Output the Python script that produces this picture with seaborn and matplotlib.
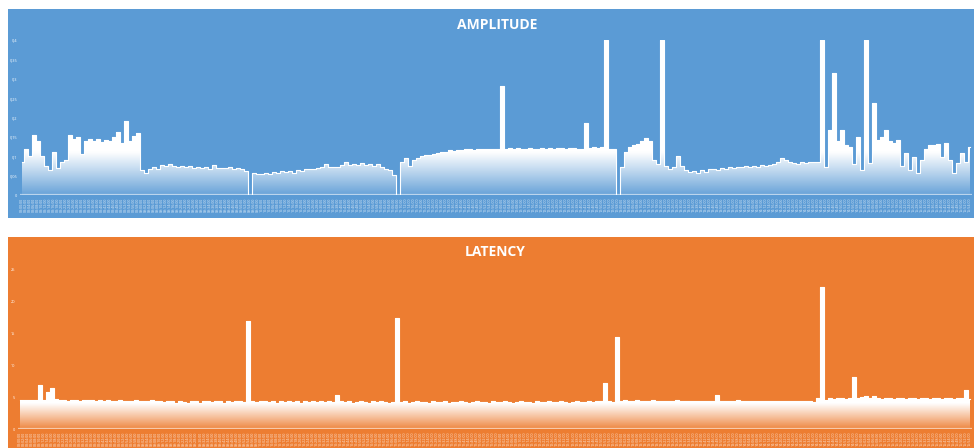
import numpy as np
import pandas as pd
import matplotlib
matplotlib.use('Agg')
import matplotlib.pyplot as plt
from matplotlib.colors import LinearSegmentedColormap
from matplotlib.patches import Rectangle
import seaborn as sns

# values (one value every ~4 px)
amplitude = [
    0.085, 0.12, 0.10, 0.155, 0.14, 0.10, 0.075, 0.065, 0.11, 0.07,
    0.085, 0.09, 0.155, 0.145, 0.15, 0.105, 0.14, 0.145, 0.14, 0.145,
    0.138, 0.142, 0.14, 0.15, 0.162, 0.135, 0.19, 0.14, 0.152, 0.16,
    0.065, 0.057, 0.068, 0.072, 0.066, 0.078, 0.074, 0.08, 0.075, 0.073,
    0.076, 0.072, 0.074, 0.07, 0.072, 0.069, 0.071, 0.068, 0.078, 0.07,
    0.069, 0.07, 0.072, 0.068, 0.07, 0.066, 0.062, 0.0, 0.056, 0.055,
    0.053, 0.057, 0.054, 0.06, 0.058, 0.062, 0.06, 0.063, 0.058, 0.064,
    0.062, 0.066, 0.068, 0.066, 0.07, 0.072, 0.08, 0.071, 0.073, 0.072,
    0.077, 0.085, 0.078, 0.08, 0.077, 0.082, 0.078, 0.08, 0.076, 0.08,
    0.072, 0.068, 0.065, 0.052, 0.0, 0.085, 0.095, 0.075, 0.09, 0.095,
    0.1, 0.103, 0.104, 0.107, 0.108, 0.11, 0.112, 0.115, 0.114, 0.117,
    0.116, 0.118, 0.12, 0.117, 0.119, 0.118, 0.12, 0.118, 0.12, 0.119,
    0.28, 0.12, 0.122, 0.119, 0.121, 0.12, 0.118, 0.121, 0.12, 0.119,
    0.122, 0.12, 0.121, 0.12, 0.122, 0.121, 0.12, 0.122, 0.121, 0.12,
    0.118, 0.185, 0.122, 0.123, 0.121, 0.124, 0.40, 0.12, 0.118, 0.0,
    0.072, 0.11, 0.125, 0.128, 0.132, 0.14, 0.148, 0.14, 0.09, 0.08,
    0.40, 0.075, 0.068, 0.072, 0.1, 0.075, 0.065, 0.06, 0.062, 0.058,
    0.064, 0.06, 0.066, 0.068, 0.065, 0.07, 0.068, 0.072, 0.07, 0.073,
    0.071, 0.074, 0.072, 0.075, 0.073, 0.077, 0.075, 0.078, 0.08, 0.085,
    0.095, 0.09, 0.085, 0.082, 0.08, 0.085, 0.083, 0.086, 0.084, 0.085,
    0.40, 0.072, 0.168, 0.315, 0.14, 0.168, 0.13, 0.125, 0.08, 0.15,
    0.065, 0.40, 0.082, 0.237, 0.142, 0.15, 0.168, 0.14, 0.134, 0.142,
    0.075, 0.108, 0.065, 0.098, 0.057, 0.09, 0.12, 0.128, 0.13, 0.132,
    0.098, 0.134, 0.09, 0.057, 0.082, 0.108, 0.085, 0.124,
]

latency = [
    4.6, 4.5, 4.6, 4.5, 4.6, 6.9, 4.5, 5.8, 6.4, 4.7,
    4.6, 4.5, 4.4, 4.6, 4.5, 4.4, 4.5, 4.6, 4.5, 4.4, 4.5,
    4.4, 4.5, 4.3, 4.4, 4.5, 4.4, 4.3, 4.4, 4.5, 4.4, 4.3, 4.4, 4.5, 4.4, 4.3,
    4.2, 4.4, 4.3, 4.1, 4.4, 4.2, 4.0, 4.4, 4.3, 4.1, 4.4, 4.3, 4.2, 4.4, 4.3,
    4.0, 4.3, 4.2, 4.4, 4.3, 4.2,
    16.9,
    4.3, 4.2, 4.4, 4.3, 4.2, 4.3, 4.1, 4.3, 4.2, 4.3, 4.2, 4.3, 4.1, 4.3, 4.2,
    4.3, 4.2, 4.3, 4.2, 4.3, 4.2,
    5.3,
    4.3, 4.2, 4.3, 4.1, 4.2, 4.3, 4.2, 4.1, 4.3, 4.2, 4.3, 4.2, 4.1, 4.2,
    17.3,
    4.2, 4.3, 4.1, 4.2, 4.3, 4.2, 4.2, 4.1, 4.3, 4.2,
    4.2, 4.3, 4.1, 4.2, 4.2, 4.3, 4.2, 4.1, 4.2, 4.3,
    4.2, 4.2, 4.1, 4.3, 4.2, 4.2, 4.3, 4.2, 4.1, 4.2,
    4.3, 4.2, 4.2, 4.1, 4.3, 4.2, 4.2, 4.3, 4.2, 4.2,
    4.3, 4.2, 4.1, 4.2, 4.3, 4.2, 4.2, 4.3, 4.2, 4.3, 4.4,
    7.2, 4.3, 4.2, 14.4,
    4.4, 4.5, 4.3, 4.4, 4.5, 4.4, 4.3, 4.4, 4.5, 4.4, 4.4, 4.3,
    4.4, 4.4, 4.5, 4.3, 4.4, 4.4, 4.3, 4.4, 4.4, 4.3, 4.4, 4.4,
    5.3,
    4.3, 4.4, 4.3, 4.4, 4.6, 4.3, 4.4, 4.3, 4.3, 4.4, 4.3, 4.4, 4.3,
    4.3, 4.4, 4.3, 4.4, 4.3, 4.4, 4.3, 4.4, 4.3, 4.3, 4.2, 4.8,
    22.2,
    4.6, 4.8, 4.7, 4.9, 4.8, 4.7, 4.8,
    8.1,
    4.8, 5.0, 5.2, 4.9, 5.1, 4.8, 4.7, 4.8, 4.8, 4.7, 4.8, 4.8, 4.7, 4.8, 4.8,
    4.7, 4.8, 4.8, 4.7, 4.8, 4.8, 4.7, 4.8, 4.8, 4.7, 4.8, 4.8, 6.1, 4.7,
]

amp_ticks = [0, 0.05, 0.1, 0.15, 0.2, 0.25, 0.3, 0.35, 0.4]
amp_tick_labels = ["0", "0,05", "0,1", "0,15", "0,2", "0,25", "0,3", "0,35", "0,4"]
lat_ticks = [0, 5, 10, 15, 20, 25]
lat_tick_labels = ["0", "5", "10", "15", "20", "25"]
time_labels = list(pd.date_range("2019-03-12 08:00:00", periods=len(amplitude), freq="2min").strftime("%H:%M:%S"))

BLUE = "#5B9BD5"
ORANGE = "#ED7D31"
W, H = 974, 448

plt.rcParams['font.family'] = ['Open Sans', 'DejaVu Sans']

fig = plt.figure(figsize=(W / 100, H / 100), dpi=100)
fig.patch.set_facecolor("white")


def fx(px):
    return px / W


def fy(py):
    return 1 - py / H


def panel(values, color, title, title_xy, box, ax_box, ticks, tick_labels, ymax, fade_top):
    # coloured card behind the chart
    l, t, r, b = box
    fig.add_artist(Rectangle((fx(l), fy(b)), fx(r) - fx(l), fy(t) - fy(b),
                             transform=fig.transFigure, facecolor=color, edgecolor="none", zorder=0))
    fig.text(fx(title_xy[0]), fy(title_xy[1]), title, ha="center", va="center",
             color="white", fontsize=10, fontweight="bold")

    l, t, r, b = ax_box
    ax = fig.add_axes([fx(l), fy(b), fx(r) - fx(l), fy(t) - fy(b)])
    ax.set_facecolor("none")

    n = len(values)
    df = pd.DataFrame({"idx": np.arange(n), "value": values})

    # gradient area: white near the top of the band, fading into the card colour
    poly = ax.fill_between(df["idx"], df["value"], step="mid", facecolor="none", linewidth=0)
    grad = np.clip(np.linspace(0, ymax, 600) / fade_top, 0, 1).reshape(-1, 1)
    cmap = LinearSegmentedColormap.from_list("fade", [(1, 1, 1, 0.08), (1, 1, 1, 0.55), (1, 1, 1, 1)])
    im = ax.imshow(grad, cmap=cmap, vmin=0, vmax=1, aspect="auto", origin="lower",
                   extent=[-0.5, n - 0.5, 0, ymax], interpolation="bilinear", zorder=1)
    im.set_clip_path(poly.get_paths()[0], transform=ax.transData)

    sns.lineplot(data=df, x="idx", y="value", ax=ax, color="white", linewidth=0.8,
                 drawstyle="steps-mid", zorder=2)
    ax.axhline(0, color="white", alpha=0.55, linewidth=1.6, zorder=3)

    ax.set_xlim(-0.5, n - 0.5)
    ax.set_ylim(0, ymax)
    ax.set_yticks(ticks, tick_labels, fontsize=2.8, color="white")
    ax.set_xticks(np.arange(n), time_labels[:n], rotation=90, fontsize=2.6, color=(1, 1, 1, 0.8))
    ax.tick_params(length=0, pad=2)
    ax.set_xlabel("")
    ax.set_ylabel("")
    for s in ax.spines.values():
        s.set_visible(False)
    return ax


panel(amplitude, BLUE, "AMPLITUDE", (497, 25), (8, 9, 974, 218), (20, 40, 972, 195),
      amp_ticks, amp_tick_labels, 0.4, 0.11)
panel(latency, ORANGE, "LATENCY", (495, 252), (8, 237, 974, 448), (18, 269, 972, 429),
      lat_ticks, lat_tick_labels, 25, 4.0)

plt.savefig("out.png", dpi=100)
